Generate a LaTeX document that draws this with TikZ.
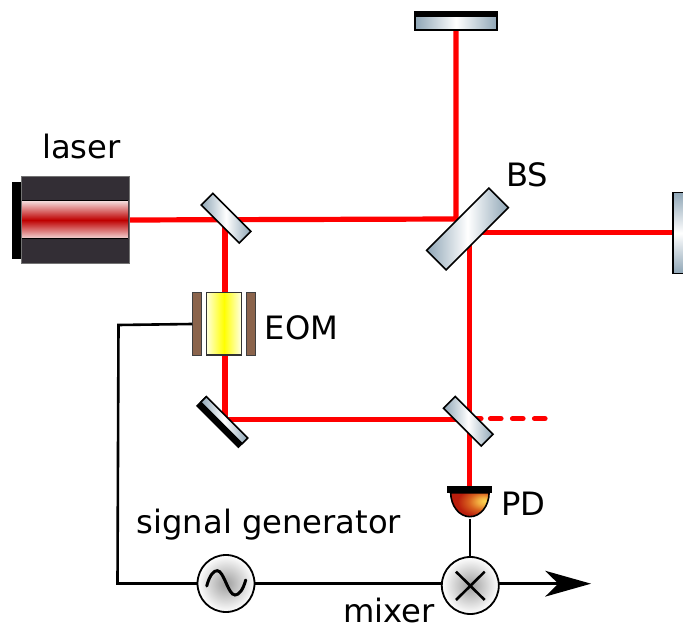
\documentclass[tikz,border=0pt]{standalone}
\usepackage{fontspec}
\setmainfont{DejaVu Sans}
\usetikzlibrary{backgrounds}
\definecolor{glassend}{HTML}{8FA6B6}
\definecolor{beamred}{HTML}{FF0000}
\definecolor{laserbody}{HTML}{332E35}
\definecolor{plate}{HTML}{8B644C}
\definecolor{laserred}{HTML}{BE0000}
\definecolor{laserpale}{HTML}{F4DCDC}
\pgfdeclareradialshading{pdshade}{\pgfpoint{20bp}{8bp}}{%
  rgb(0bp)=(0.99,0.85,0.33);
  rgb(8bp)=(0.95,0.68,0.25);
  rgb(18bp)=(0.85,0.38,0.12);
  rgb(30bp)=(0.73,0.12,0.05);
  rgb(100bp)=(0.68,0.06,0.03)}
\tikzset{
  x=1pt,y=-1pt,
  glassbox/.style={draw=black,line width=1.6pt,left color=glassend,right color=glassend,middle color=white,inner sep=0pt,outer sep=0pt,rotate=#1},
  beam/.style={draw=beamred,line width=5.2pt,line join=miter},
  wire/.style={draw=black,line width=2.6pt,line join=miter},
  lbl/.style={anchor=base west,inner sep=0pt,font=\fontsize{32.2}{38}\selectfont},
  roundel/.style={circle,draw=black,line width=1.8pt,inner color=black!38,outer color=white,minimum size=57pt,inner sep=0pt,outer sep=0pt},
  platebox/.style={draw=black!75,line width=1pt,fill=plate,minimum width=9.5pt,minimum height=63pt,inner sep=0pt,outer sep=0pt},
  blackbar/.style={fill=black,inner sep=0pt,outer sep=0pt}
}
\begin{document}
\begin{tikzpicture}
\useasboundingbox (0,0) rectangle (683,628);
% laser
\node[blackbar,minimum width=10pt,minimum height=77pt] (laserback) at (16.5,220.5) {};
\node[draw=black!55,line width=1pt,fill=laserbody,minimum width=108pt,minimum height=87pt,inner sep=0pt,outer sep=0pt] (laser) at (75,220.5) {};
\node[top color=laserpale,bottom color=laserpale,middle color=laserred,minimum width=106pt,minimum height=38pt,inner sep=0pt,outer sep=0pt] (cavity) at (75,220) {};
\draw[black,line width=1pt] (cavity.north west) -- (cavity.north east) (cavity.south west) -- (cavity.south east);
% mirrors
\node[glassbox=-45,minimum width=53.7pt,minimum height=16.5pt] (m1) at (226,218.2) {};
\node[glassbox=-45,minimum width=53.4pt,minimum height=16.5pt] (m3) at (468.3,421.3) {};
\node[blackbar,rotate=-45,minimum width=60pt,minimum height=13.7pt] (m2back) at (222,422.3) {};
\node[glassbox=-45,minimum width=58.5pt,minimum height=8pt] (m2) at (224.2,420.1) {};
\node[glassbox=45,minimum width=88pt,minimum height=27.5pt] (bs) at (467.5,229) {};
\node[glassbox=0,minimum width=81.5pt,minimum height=18.5pt] (mtop) at (456,21) {};
\node[blackbar,minimum width=82.6pt,minimum height=6.5pt] (mtopback) at (456,14.2) {};
\begin{scope}
\clip (0,0) rectangle (683,628);
\node[draw=black,line width=1.6pt,top color=glassend,bottom color=glassend,middle color=white,minimum width=30pt,minimum height=81pt,inner sep=0pt,outer sep=0pt] (mright) at (688,233) {};
\end{scope}
% EOM
\node[draw=black!80,line width=1.4pt,left color=yellow!15!white,right color=yellow!10!white,middle color=yellow,minimum width=34.6pt,minimum height=62.7pt,inner sep=0pt,outer sep=0pt] (eom) at (224,323.7) {};
\node[platebox] (plateL) at (197,323.7) {};
\node[platebox] (plateR) at (251,323.7) {};
% detector
\path[draw=black,line width=1.6pt,shading=pdshade] (450.7,492.7) arc[start angle=180,end angle=360,x radius=19.2pt,y radius=24pt] -- cycle;
\node[blackbar,minimum width=45pt,minimum height=6.7pt] (pdbar) at (469.5,489.3) {};
\coordinate (pdout) at (470,519.3);
% signal elements
\node[roundel] (sig) at (226,583.5) {};
\node[roundel] (mix) at (470.3,585.5) {};
\draw[line width=3pt,line cap=round] (206.7,586) .. controls (210,574) and (214,570.7) .. (217.3,570.7) .. controls (224,570.7) and (228,595) .. (235,595) .. controls (239,595) and (243,590) .. (245.7,580);
\draw[line width=2.6pt] (456,571.7) -- (484.7,600) (484.7,571.7) -- (456,600);
% coordinates for paths
\coordinate (beamcorner) at (456,219);
\coordinate (wireA) at (118.5,325);
\coordinate (wireB) at (117.5,583.5);
\coordinate (arrowtip) at (591,583.7);
\coordinate (dashstart) at (472,418.7);
% beams and connectors behind
\begin{pgfonlayer}{background}
\draw[beam] (cavity.east) -- (beamcorner) -- (mtop.center);
\draw[beam] (225,220) -- (225,419.3) -- (469.3,419.3);
\draw[beam] (469.3,240) -- (469.3,486.7);
\draw[beam] (470,232.7) -- (mright.west |- 470,232.7);
\draw[beamred,line width=5.2pt,line cap=round] (dashstart) -- (481,418.7);
\end{pgfonlayer}
\draw[beamred,line width=5.2pt,line cap=round] (490.5,418.7) -- (501,418.7) (512.5,418.7) -- (523,418.7) (534.5,418.7) -- (545,418.7);
\draw[wire] (plateL.west |- 192,324) -- (wireA) -- (wireB) -- (sig.west);
\draw[wire] (sig.east) -- (mix.west |- 442,583.5);
\draw[wire] (pdout) -- (mix.north -| pdout);
\draw[wire] (mix.east |- 499,583.7) -- (560,583.7);
\fill[black] (arrowtip) -- (545,570.7) -- (558.3,583.7) -- (545,596.7) -- cycle;
% labels
\node[lbl] (tlaser) at (42,159) {laser};
\node[lbl] (tbs) at (506,187) {BS};
\node[lbl] (teom) at (264.5,340) {EOM};
\node[lbl] (tpd) at (501,515) {PD};
\node[lbl] (tsig) at (136.5,533) {signal generator};
\node[lbl] (tmix) at (343,622.5) {mixer};
\end{tikzpicture}
\end{document}
